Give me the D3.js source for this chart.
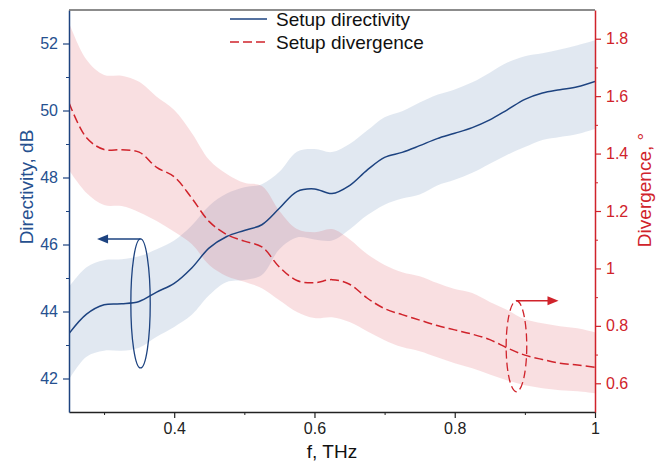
<!DOCTYPE html>
<html>
<head>
<meta charset="utf-8">
<script src="https://cdn.jsdelivr.net/npm/d3@7"></script>
<style>
body { margin: 0; background: #fff; }
svg { display: block; font-family: "Liberation Sans", Arial, sans-serif; }
</style>
</head>
<body>
<script>
// frequency grid, THz
var freq = [0.25, 0.275, 0.3, 0.325, 0.35, 0.375, 0.4, 0.425, 0.45, 0.475, 0.5, 0.525, 0.55, 0.575, 0.6,
            0.625, 0.65, 0.675, 0.7, 0.725, 0.75, 0.775, 0.8, 0.825, 0.85, 0.875, 0.9, 0.925, 0.95, 0.975, 1.0];

// setup directivity, dB (line + shaded band)
var directivity = [43.34, 43.92, 44.20, 44.23, 44.30, 44.58, 44.84, 45.30, 45.90, 46.24, 46.42, 46.59, 47.08, 47.58, 47.66,
                   47.52, 47.76, 48.22, 48.60, 48.75, 48.95, 49.16, 49.32, 49.49, 49.72, 50.02, 50.33, 50.52, 50.62, 50.71, 50.87];
var dirUpper = [44.73, 45.32, 45.53, 45.56, 45.65, 45.86, 46.12, 46.57, 47.16, 47.52, 47.71, 47.80, 48.17, 48.77, 48.85,
                48.76, 49.00, 49.40, 49.80, 49.98, 50.24, 50.47, 50.63, 50.84, 51.13, 51.43, 51.62, 51.71, 51.82, 51.95, 52.10];
var dirLower = [41.97, 42.65, 42.83, 42.83, 42.92, 43.25, 43.54, 43.90, 44.49, 44.88, 44.94, 45.09, 45.86, 46.21, 46.15,
                46.12, 46.45, 46.87, 47.19, 47.37, 47.49, 47.76, 47.93, 48.14, 48.41, 48.68, 48.91, 49.12, 49.21, 49.30, 49.45];

// setup divergence, degrees (line + shaded band)
var divergence = [1.577, 1.455, 1.414, 1.413, 1.405, 1.352, 1.319, 1.245, 1.163, 1.118, 1.095, 1.075, 1.005, 0.958, 0.950,
                  0.961, 0.945, 0.897, 0.860, 0.839, 0.820, 0.801, 0.786, 0.771, 0.752, 0.723, 0.698, 0.683, 0.670, 0.664, 0.656];
var divUpper = [1.856, 1.727, 1.674, 1.671, 1.650, 1.598, 1.552, 1.472, 1.378, 1.329, 1.298, 1.287, 1.200, 1.137, 1.126,
                1.137, 1.102, 1.050, 1.012, 0.987, 0.973, 0.949, 0.928, 0.914, 0.883, 0.855, 0.823, 0.809, 0.799, 0.792, 0.778];
var divLower = [1.343, 1.263, 1.221, 1.217, 1.196, 1.165, 1.128, 1.085, 1.012, 0.973, 0.954, 0.931, 0.889, 0.848, 0.827,
                0.830, 0.813, 0.781, 0.750, 0.726, 0.712, 0.691, 0.670, 0.652, 0.631, 0.610, 0.593, 0.583, 0.576, 0.572, 0.565];

// ticks
var xTicks = [0.4, 0.6, 0.8, 1];
var xMinor = [0.3, 0.5, 0.7, 0.9];
var leftTicks = [42, 44, 46, 48, 50, 52];
var leftMinor = [43, 45, 47, 49, 51];
var rightTicks = [0.6, 0.8, 1, 1.2, 1.4, 1.6, 1.8];
var rightMinor = [0.7, 0.9, 1.1, 1.3, 1.5, 1.7];

var blue = "#1d4380", blueText = "#26508f", red = "#d0232b";

var margin = {top: 10, right: 68, bottom: 52, left: 69},
    width = 663 - margin.left - margin.right,
    height = 464 - margin.top - margin.bottom;

var x = d3.scaleLinear().domain([0.25, 1]).range([0, width]),
    yL = d3.scaleLinear().domain([41, 53]).range([height, 0]),
    yR = d3.scaleLinear().domain([0.5, 1.9]).range([height, 0]);

var fmt = d3.format("~g");

var svg = d3.select("body").append("svg")
    .attr("width", width + margin.left + margin.right)
    .attr("height", height + margin.top + margin.bottom);

var g = svg.append("g")
    .attr("transform", "translate(" + margin.left + "," + margin.top + ")");

var clip = g.append("clipPath").attr("id", "plot")
    .append("rect").attr("width", width).attr("height", height);

var data = freq.map(function(f, i) {
    return {f: f, d: directivity[i], dU: dirUpper[i], dL: dirLower[i],
            v: divergence[i], vU: divUpper[i], vL: divLower[i]};
});

var curve = d3.curveCatmullRom.alpha(0.5);
var plot = g.append("g").attr("clip-path", "url(#plot)");

//bands
plot.append("path")
    .datum(data)
    .attr("fill", "#2e5a9a")
    .attr("fill-opacity", 0.14)
    .attr("d", d3.area().curve(curve)
        .x(function(d) { return x(d.f); })
        .y0(function(d) { return yL(d.dL); })
        .y1(function(d) { return yL(d.dU); }));

plot.append("path")
    .datum(data)
    .attr("fill", "#d62a36")
    .attr("fill-opacity", 0.15)
    .attr("d", d3.area().curve(curve)
        .x(function(d) { return x(d.f); })
        .y0(function(d) { return yR(d.vL); })
        .y1(function(d) { return yR(d.vU); }));

//lines
plot.append("path")
    .datum(data)
    .attr("fill", "none")
    .attr("stroke", blue)
    .attr("stroke-width", 1.5)
    .attr("d", d3.line().curve(curve)
        .x(function(d) { return x(d.f); })
        .y(function(d) { return yL(d.d); }));

plot.append("path")
    .datum(data)
    .attr("fill", "none")
    .attr("stroke", red)
    .attr("stroke-width", 1.5)
    .attr("stroke-dasharray", "9,4")
    .attr("d", d3.line().curve(curve)
        .x(function(d) { return x(d.f); })
        .y(function(d) { return yR(d.v); }));

// AXES
function styleAxis(sel, color, textColor) {
    sel.select(".domain").attr("stroke", color).attr("stroke-width", 1.5);
    sel.selectAll(".tick line").attr("stroke", color).attr("stroke-width", 1.2);
    sel.selectAll(".tick text").attr("fill", textColor).style("font-size", "16px");
}

var xAxis = g.append("g")
    .attr("transform", "translate(0," + height + ")")
    .call(d3.axisBottom(x).tickValues(xTicks).tickFormat(fmt).tickSize(6).tickSizeOuter(0).tickPadding(5));
styleAxis(xAxis, "#222", "#222");
g.append("g")
    .attr("transform", "translate(0," + height + ")")
    .call(d3.axisBottom(x).tickValues(xMinor).tickFormat("").tickSize(3).tickSizeOuter(0))
    .call(function(s) { s.select(".domain").remove(); s.selectAll("line").attr("stroke", "#222"); });

var lAxis = g.append("g")
    .call(d3.axisLeft(yL).tickValues(leftTicks).tickFormat(fmt).tickSize(6).tickSizeOuter(0).tickPadding(5));
styleAxis(lAxis, blue, blueText);
g.append("g")
    .call(d3.axisLeft(yL).tickValues(leftMinor).tickFormat("").tickSize(3).tickSizeOuter(0))
    .call(function(s) { s.select(".domain").remove(); s.selectAll("line").attr("stroke", blue); });

var rAxis = g.append("g")
    .attr("transform", "translate(" + width + ",0)")
    .call(d3.axisRight(yR).tickValues(rightTicks).tickFormat(fmt).tickSize(6).tickSizeOuter(0).tickPadding(5));
styleAxis(rAxis, red, red);
g.append("g")
    .attr("transform", "translate(" + width + ",0)")
    .call(d3.axisRight(yR).tickValues(rightMinor).tickFormat("").tickSize(3).tickSizeOuter(0))
    .call(function(s) { s.select(".domain").remove(); s.selectAll("line").attr("stroke", red); });

// top frame
g.append("line")
    .attr("x1", 0).attr("x2", width).attr("y1", 0).attr("y2", 0)
    .attr("stroke", "#666").attr("stroke-width", 1.5);

// AXIS TITLES
g.append("text")
    .attr("x", width / 2).attr("y", height + 46)
    .attr("text-anchor", "middle")
    .attr("fill", "#111")
    .style("font-size", "19px")
    .text("f, THz");

g.append("text")
    .attr("transform", "translate(" + (-36) + "," + 177 + ") rotate(-90)")
    .attr("text-anchor", "middle")
    .attr("fill", blueText)
    .style("font-size", "19px")
    .text("Directivity, dB");

g.append("text")
    .attr("transform", "translate(" + (width + 56) + "," + 180 + ") rotate(-90)")
    .attr("text-anchor", "middle")
    .attr("fill", red)
    .style("font-size", "19px")
    .text("Divergence, °");

// LEGEND
var leg = svg.append("g").attr("transform", "translate(230,19)");
leg.append("line").attr("x1", 0).attr("x2", 37).attr("y1", 0).attr("y2", 0)
    .attr("stroke", blue).attr("stroke-width", 1.5);
leg.append("text").attr("x", 46).attr("y", 6.5).style("font-size", "19px").attr("fill", "#111")
    .text("Setup directivity");
leg.append("line").attr("x1", 0).attr("x2", 37).attr("y1", 23).attr("y2", 23)
    .attr("stroke", red).attr("stroke-width", 1.5).attr("stroke-dasharray", "9,4");
leg.append("text").attr("x", 46).attr("y", 29.5).style("font-size", "19px").attr("fill", "#111")
    .text("Setup divergence");

// ANNOTATIONS: ellipse + arrow pointing to the matching axis
function annotate(cf, cy, rx, ry, tipF, color, dashed) {
    var cx = x(cf), top = cy - ry, tip = x(tipF);
    var dir = tip < cx ? -1 : 1;
    g.append("ellipse")
        .attr("cx", cx).attr("cy", cy).attr("rx", rx).attr("ry", ry)
        .attr("fill", "none").attr("stroke", color).attr("stroke-width", 1.3)
        .attr("stroke-dasharray", dashed ? "8,4" : null);
    g.append("line")
        .attr("x1", cx).attr("y1", top).attr("x2", tip - dir * 8).attr("y2", top)
        .attr("stroke", color).attr("stroke-width", 1.5);
    g.append("path")
        .attr("d", "M" + tip + "," + top + "L" + (tip - dir * 11) + "," + (top - 4.5) +
                   "L" + (tip - dir * 11) + "," + (top + 4.5) + "Z")
        .attr("fill", color);
}
annotate(0.352, yL(44.24), 9.7, 64.5, 0.290, blue, false);
annotate(0.888, yR(0.729), 10.3, 45.5, 0.948, red, true);
</script>
</body>
</html>
